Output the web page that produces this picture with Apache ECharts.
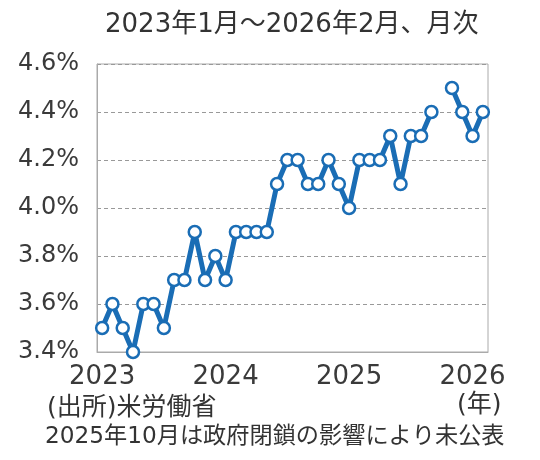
<!DOCTYPE html>
<html><head><meta charset="utf-8">
<script src="https://cdn.jsdelivr.net/npm/echarts@6/dist/echarts.min.js"></script>
<style>html,body{margin:0;padding:0;background:#fff}#c{width:540px;height:460px}</style>
</head><body><div id="c"></div>
<script>
const months = [];
for (let y = 2023; y <= 2026; y++) for (let m = 1; m <= 12; m++) { if (y === 2026 && m > 2) break; months.push(y + '-' + m); }
const rates = [3.5,3.6,3.5,3.4,3.6,3.6,3.5,3.7,3.7,3.9,3.7,3.8,
               3.7,3.9,3.9,3.9,3.9,4.1,4.2,4.2,4.1,4.1,4.2,4.1,
               4.0,4.2,4.2,4.2,4.3,4.1,4.3,4.3,4.4,null,4.5,4.4,
               4.3,4.4];
const yTicks = [3.4,3.6,3.8,4.0,4.2,4.4,4.6];
const titleText = '2023年1月～2026年2月、月次';
const sourceText = '(出所)米労働省';
const noteText = '2025年10月は政府閉鎖の影響により未公表';
const unitText = '(年)';
const FONT = '"DejaVu Sans", "Noto Sans CJK JP", sans-serif';

const chart = echarts.init(document.getElementById('c'));
chart.setOption({
  animation: false,
  textStyle: { fontFamily: FONT },
  title: { text: titleText, left: 100, top: 7,
    textStyle: { fontFamily: FONT, fontSize: 26, fontWeight: 'normal', color: '#333' } },
  grid: { left: 97, right: 52, top: 64, bottom: 108 },
  xAxis: {
    type: 'category', data: months, boundaryGap: true,
    axisLine: { lineStyle: { color: '#aaa', width: 1 } },
    axisTick: { show: false },
    axisLabel: {
      interval: (i) => i % 12 === 0,
      formatter: (v) => v.split('-')[0],
      fontSize: 26, color: '#3a3a3a', margin: 12, fontFamily: FONT
    }
  },
  yAxis: {
    type: 'value', min: 3.4, max: 4.6, interval: 0.2,
    axisLine: { show: true, lineStyle: { color: '#aaa', width: 1 } },
    axisTick: { show: false },
    splitLine: { show: true, lineStyle: { color: '#999', type: [4, 3], width: 1 } },
    axisLabel: { formatter: (v) => v.toFixed(1) + '%', fontSize: 24, color: '#3a3a3a', margin: 18, fontFamily: FONT }
  },
  graphic: [
    { type: 'rect', shape: { x: 97, y: 64, width: 391, height: 288 }, style: { fill: 'none', stroke: '#aaa', lineWidth: 1 }, silent: true, z: -1 },
    { type: 'text', left: 47, top: 396, style: { text: sourceText, font: '25px ' + FONT, fill: '#333' } },
    { type: 'text', left: 457, top: 393, style: { text: unitText, font: '25px ' + FONT, fill: '#333' } },
    { type: 'text', left: 45, top: 425, style: { text: noteText, font: '23.2px ' + FONT, fill: '#333' } }
  ],
  series: [{
    type: 'line', data: rates, connectNulls: false,
    symbol: 'circle', symbolSize: 12, showSymbol: true, showAllSymbol: true,
    lineStyle: { color: '#1a6db5', width: 5 },
    itemStyle: { color: '#fff', borderColor: '#1a6db5', borderWidth: 2.5 }
  }]
});
</script></body></html>
